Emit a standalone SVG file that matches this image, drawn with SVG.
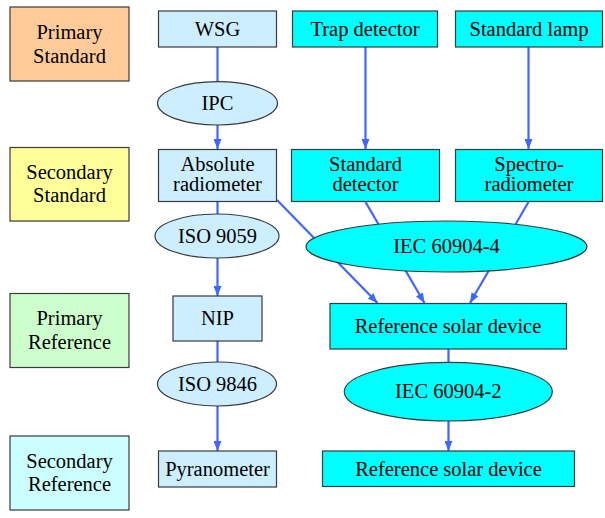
<svg xmlns="http://www.w3.org/2000/svg" width="605" height="518" viewBox="0 0 605 518">
<defs>
<marker id="ah" markerUnits="userSpaceOnUse" markerWidth="10" markerHeight="8" refX="10" refY="4" orient="auto">
<path d="M0,0 L10,4 L0,8 z" fill="#3f66ff"/>
</marker>
<style>
text{font-family:'Liberation Serif',serif;font-size:20.5px;text-anchor:middle;fill:#000}
.n{stroke:#3a3a3a;stroke-width:1.2}
.e{stroke:#3f66ff;stroke-width:2.2;fill:none}
.a{marker-end:url(#ah)}
.lb{fill:#cceeff}
.cy{fill:#00ffff}
</style>
</defs>
<rect width="605" height="518" fill="#fff"/>
<g id="edges">
<path class="e a" d="M217.5,47 L217.5,149"/>
<path class="e a" d="M217.5,202 L217.5,296"/>
<path class="e a" d="M217.5,341 L217.5,451"/>
<path class="e a" d="M365.5,47 L365.5,149"/>
<path class="e a" d="M528.5,47 L528.5,149"/>
<path class="e a" d="M277,200 L377.5,303"/>
<path class="e a" d="M365.5,202 L424.5,303"/>
<path class="e a" d="M528.5,202 L470,303"/>
<path class="e a" d="M448.5,349 L448.5,451"/>
</g>
<g id="primary-standard"><rect class="n" x="10" y="7" width="119" height="74" fill="#ffcc99"/><text x="69.5" y="38.5">Primary</text><text x="69.5" y="62.5">Standard</text></g>
<g id="secondary-standard"><rect class="n" x="10" y="147.5" width="119" height="73.5" fill="#ffff99"/><text x="69.5" y="178.5">Secondary</text><text x="69.5" y="202">Standard</text></g>
<g id="primary-reference"><rect class="n" x="10" y="293.5" width="119" height="74" fill="#ccffcc"/><text x="69.5" y="324.5">Primary</text><text x="69.5" y="349">Reference</text></g>
<g id="secondary-reference"><rect class="n" x="10" y="436" width="119" height="74" fill="#ccffff"/><text x="69.5" y="467.5">Secondary</text><text x="69.5" y="491">Reference</text></g>
<g id="wsg"><rect class="n lb" x="158.5" y="11" width="118" height="36"/><text x="217.5" y="35.5">WSG</text></g>
<g id="ipc"><ellipse class="n lb" cx="217.5" cy="103.3" rx="60" ry="21.7"/><text x="217.5" y="109.5">IPC</text></g>
<g id="absolute-radiometer"><rect class="n lb" x="158.5" y="149.5" width="118" height="52"/><text x="217.5" y="170.5">Absolute</text><text x="217.5" y="190.5">radiometer</text></g>
<g id="iso9059"><ellipse class="n lb" cx="217" cy="236" rx="62" ry="22"/><text x="217.5" y="243">ISO 9059</text></g>
<g id="nip"><rect class="n lb" x="173" y="296" width="89" height="45"/><text x="217.5" y="325">NIP</text></g>
<g id="iso9846"><ellipse class="n lb" cx="217" cy="384" rx="59.5" ry="22"/><text x="217.5" y="391">ISO 9846</text></g>
<g id="pyranometer"><rect class="n lb" x="158.5" y="451" width="118" height="36"/><text x="217.5" y="475.5">Pyranometer</text></g>
<g id="trap-detector"><rect class="cy n" x="292.5" y="11" width="145" height="36"/><text x="365" y="35.5">Trap detector</text></g>
<g id="standard-lamp"><rect class="cy n" x="455.5" y="11" width="147" height="36"/><text x="529" y="35.5">Standard lamp</text></g>
<g id="standard-detector"><rect class="cy n" x="291.5" y="149.5" width="148" height="52"/><text x="365.5" y="170.5">Standard</text><text x="365.5" y="190.5">detector</text></g>
<g id="spectroradiometer"><rect class="cy n" x="455.5" y="149.5" width="147" height="52"/><text x="529" y="170.5">Spectro-</text><text x="529" y="190.5">radiometer</text></g>
<g id="iec60904-4"><ellipse class="cy n" cx="446.5" cy="246.5" rx="140.5" ry="25.5"/><text x="446.5" y="253">IEC 60904-4</text></g>
<g id="reference-solar-device-1"><rect class="cy n" x="330" y="303.5" width="236.5" height="45.5"/><text x="448" y="333">Reference solar device</text></g>
<g id="iec60904-2"><ellipse class="cy n" cx="448.3" cy="391.7" rx="104" ry="29.3"/><text x="448.3" y="398">IEC 60904-2</text></g>
<g id="reference-solar-device-2"><rect class="cy n" x="322.5" y="451" width="252" height="35.5"/><text x="448.5" y="475.5">Reference solar device</text></g>
</svg>
